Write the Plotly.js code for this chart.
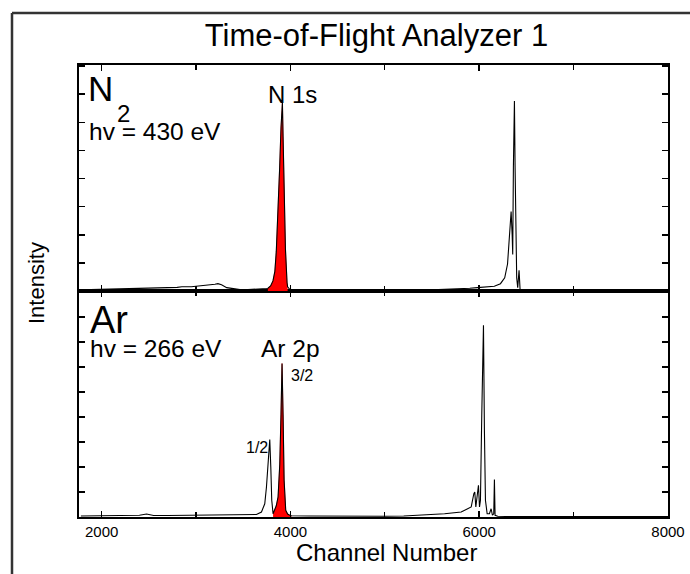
<!DOCTYPE html>
<html>
<head>
<meta charset="utf-8">
<script src="https://cdn.plot.ly/plotly-3.0.1.min.js"></script>
<style>html,body{margin:0;padding:0;background:#fff;}#chart{width:690px;height:574px;}</style>
</head>
<body>
<div id="chart"></div>
<script>
// ---- data ----
const n2Channel = [1780,1900,2000,2100,2200,2300,2400,2500,2600,2700,2800,2850,2900,2950,3000,3040,3100,3150,3200,3232,3270,3325,3400,3465,3550,3650,3700,3750,3761,3790,3815,3835,3850,3870,3886,3900,3908,3915,3922,3933,3947,3964,3970,3990,4010,4200,4500,4800,5000,5200,5500,5700,5900,5980,6100,6160,6225,6270,6300,6320,6338,6349,6355,6362,6373,6380,6387,6397,6408,6422,6433,6460,6600,6800,7000,7200,7300,7400,7500,7700,8000];
const n2Intensity = [0.04,0.05,0.05,0.06,0.07,0.07,0.08,0.09,0.10,0.11,0.13,0.15,0.14,0.15,0.17,0.18,0.19,0.21,0.24,0.26,0.22,0.12,0.07,0.05,0.05,0.06,0.07,0.09,0.10,0.18,0.36,0.7,1.4,2.8,4.4,5.8,6.4,6.7,5.5,3.5,1.5,0.3,0.15,0.07,0.05,0.04,0.03,0.03,0.02,0.03,0.04,0.06,0.10,0.12,0.15,0.17,0.26,0.47,0.96,2.0,2.83,2.0,1.3,4.4,6.76,4.4,1.43,0.47,0.12,0.74,0.05,0.02,0.02,0.02,0.02,0.04,0.02,0.04,0.02,0.02,0.02];
const n2RedRange = [3761, 3970];

const arChannel = [1780,1900,2000,2100,2200,2300,2400,2476,2550,2700,2900,3100,3300,3500,3640,3693,3728,3746,3763,3781,3792,3802,3816,3834,3850,3869,3887,3900,3911,3922,3933,3950,3970,3992,4010,4200,4500,4800,5000,5200,5386,5500,5633,5809,5915,5943,5953,5964,5978,5992,6003,6013,6027,6045,6055,6066,6084,6108,6126,6140,6154,6161,6168,6196,6300,6500,6700,7000,7500,8000];
const arIntensity = [0.04,0.05,0.05,0.05,0.06,0.06,0.07,0.12,0.06,0.06,0.07,0.07,0.08,0.08,0.10,0.20,0.53,1.2,2.0,3.1,2.0,0.67,0.13,0.27,0.45,0.8,2.1,4.1,6.14,4.1,1.47,0.27,0.12,0.07,0.05,0.04,0.03,0.03,0.03,0.04,0.07,0.10,0.13,0.20,0.40,0.93,1.0,0.4,0.8,1.27,0.4,0.67,4.1,7.67,3.47,0.67,0.13,0.13,0.33,0.07,0.13,1.5,0.07,0.03,0.02,0.02,0.03,0.02,0.02,0.02];
const arRedRange = [3816, 4010];

const xTickVals = [2000, 4000, 6000, 8000];
const xTickText = ['2000', '4000', '6000', '8000'];

// ---- helpers ----
function pick(xs, ys, r) {
  const ox = [], oy = [];
  xs.forEach((x, i) => { if (x >= r[0] && x <= r[1]) { ox.push(x); oy.push(ys[i]); } });
  return {x: ox, y: oy};
}
const n2Red = pick(n2Channel, n2Intensity, n2RedRange);
const arRed = pick(arChannel, arIntensity, arRedRange);

const FONT = 'Arial, "Liberation Sans", Helvetica, sans-serif';
const W = 690, H = 574, L = 79, R = 22, T = 65, B = 57;
const pw = W - L - R, ph = H - T - B;
const px = v => (v - L) / pw;           // pixel -> paper x
const py = v => (H - B - v) / ph;       // pixel -> paper y

const traces = [
  {x: n2Red.x, y: n2Red.y, xaxis: 'x2', yaxis: 'y2', type: 'scatter', mode: 'lines', fill: 'tozeroy', fillcolor: '#ff0000', line: {color: '#ff0000', width: 0.5}, hoverinfo: 'skip'},
  {x: n2Channel, y: n2Intensity, xaxis: 'x2', yaxis: 'y2', type: 'scatter', mode: 'lines', line: {color: '#000', width: 1.1}},
  {x: arRed.x, y: arRed.y, xaxis: 'x', yaxis: 'y', type: 'scatter', mode: 'lines', fill: 'tozeroy', fillcolor: '#ff0000', line: {color: '#ff0000', width: 0.5}, hoverinfo: 'skip'},
  {x: arChannel, y: arIntensity, xaxis: 'x', yaxis: 'y', type: 'scatter', mode: 'lines', line: {color: '#000', width: 1.1}}
];

const xCommon = {
  range: [1760, 8000], showgrid: false, zeroline: false, showline: true, linecolor: '#000', linewidth: 2,
  mirror: 'ticks', ticks: 'inside', ticklen: 6, tickwidth: 1.5, tickcolor: '#000',
  tickvals: xTickVals, ticktext: xTickText,
  minor: {dtick: 1000, tick0: 0, ticks: 'inside', ticklen: 5, tickwidth: 1.2, tickcolor: '#000', showgrid: false},
  tickfont: {family: FONT, size: 15, color: '#000'}
};
const yCommon = {
  showgrid: false, zeroline: false, showline: true, linecolor: '#000', linewidth: 2,
  mirror: 'ticks', ticks: 'inside', ticklen: 6, tickwidth: 1.5, tickcolor: '#000',
  dtick: 1, tick0: 0, showticklabels: false
};

function ann(text, x, y, size, xanchor, extra) {
  return Object.assign({text: text, xref: 'paper', yref: 'paper', x: px(x), y: py(y), xanchor: xanchor, yanchor: 'middle',
    showarrow: false, font: {family: FONT, size: size, color: '#000'}, borderpad: 0}, extra || {});
}

const layout = {
  width: W, height: H,
  margin: {l: L, r: R, t: T, b: B},
  paper_bgcolor: '#fff', plot_bgcolor: 'rgba(0,0,0,0)',
  showlegend: false,
  title: {text: 'Time-of-Flight Analyzer 1', font: {family: FONT, size: 31, color: '#000'},
          xref: 'paper', x: 0.505, xanchor: 'center', yref: 'container', y: 1 - 35 / H, yanchor: 'middle'},
  xaxis: Object.assign({}, xCommon, {anchor: 'y', domain: [0, 1]}),
  xaxis2: Object.assign({}, xCommon, {anchor: 'y2', domain: [0, 1], matches: 'x', showticklabels: false}),
  yaxis: Object.assign({}, yCommon, {domain: [0, 0.5], range: [0, 9.04], anchor: 'x'}),
  yaxis2: Object.assign({}, yCommon, {domain: [0.5, 1], range: [0, 8.04], anchor: 'x2'}),
  annotations: [
    ann('N', 87, 88, 35, 'left'),
    ann('2', 116, 113, 24, 'left'),
    ann('hv = 430 eV', 88, 131, 24.5, 'left'),
    ann('N 1s', 267, 94, 24, 'left'),
    ann('Ar', 89, 320, 38, 'left'),
    ann('hv = 266 eV', 89, 348, 24.5, 'left'),
    ann('Ar 2p', 260, 348, 24.5, 'left'),
    ann('3/2', 290, 375, 16, 'left'),
    ann('1/2', 269, 447, 16, 'right'),
    ann('Intensity', 36, 283, 22, 'center', {textangle: -90}),
    ann('Channel Number', 386, 552, 24, 'center')
  ],
  shapes: [
    {type: 'line', xref: 'paper', yref: 'paper', x0: px(12), x1: px(700), y0: py(13), y1: py(13), line: {color: '#333', width: 2.5}},
    {type: 'line', xref: 'paper', yref: 'paper', x0: px(12), x1: px(12), y0: py(13), y1: py(590), line: {color: '#333', width: 2.5}}
  ]
};

Plotly.newPlot('chart', traces, layout, {staticPlot: true, displayModeBar: false});
</script>
</body>
</html>
